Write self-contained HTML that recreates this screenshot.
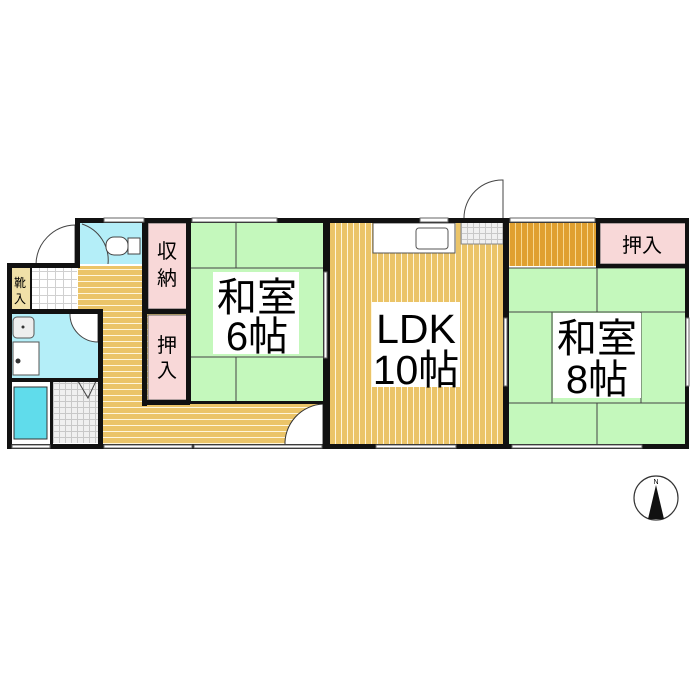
<!DOCTYPE html>
<html><head><meta charset="utf-8"><style>html,body{margin:0;padding:0;background:#fff}svg{display:block}text{font-family:"Liberation Sans","Noto Sans CJK JP",sans-serif}</style></head>
<body>
<svg width="700" height="700" viewBox="0 0 700 700" xmlns="http://www.w3.org/2000/svg">
<defs>
<pattern id="vs" width="6" height="10" patternUnits="userSpaceOnUse"><rect width="6" height="10" fill="#ebc468"/><rect x="5" width="1" height="10" fill="#fff6dc"/></pattern>
<pattern id="hs" width="10" height="6" patternUnits="userSpaceOnUse"><rect width="10" height="6" fill="#ebc468"/><rect y="5" width="10" height="1" fill="#fff6dc"/></pattern>
<pattern id="os" width="6" height="10" patternUnits="userSpaceOnUse"><rect width="6" height="10" fill="#e0a030"/><rect x="5" width="1" height="10" fill="#f8d890"/></pattern>
<pattern id="tl" width="8" height="8" patternUnits="userSpaceOnUse"><rect width="8" height="8" fill="#fff"/><rect x="7" width="1" height="8" fill="#d0d0d0"/><rect y="7" width="8" height="1" fill="#d0d0d0"/></pattern>
<pattern id="tl2" width="6" height="6" patternUnits="userSpaceOnUse"><rect width="6" height="6" fill="#f0f0f0"/><rect x="5" width="1" height="6" fill="#c8c8c8"/><rect y="5" width="6" height="1" fill="#c8c8c8"/></pattern>
</defs>
<rect x="78" y="266" width="66" height="46" fill="url(#hs)"/>
<rect x="102" y="310" width="228" height="136" fill="url(#hs)"/>
<path d="M285 446 A40 40 0 0 1 323 404 L323 446 Z" fill="#fff" stroke="#333" stroke-width="1"/>
<rect x="190" y="222" width="135" height="180" fill="#c4f8bc" stroke="#444" stroke-width="1"/>
<path d="M236 222V268M236 268H325M190 268H236M190 357H325M236 357V402" stroke="#444" fill="none"/>
<rect x="213" y="272" width="86" height="82" fill="#fff"/>
<rect x="148" y="223" width="39" height="86" fill="#f8d8d8" stroke="#666" stroke-width="1"/>
<rect x="148" y="315" width="39" height="85" fill="#f8d8d8" stroke="#666" stroke-width="1"/>
<rect x="330" y="222" width="174" height="224" fill="url(#vs)"/>
<rect x="373" y="223" width="82" height="30" fill="#fff" stroke="#555"/>
<rect x="416" y="228" width="32" height="21" rx="3" fill="#fff" stroke="#555"/>
<rect x="461" y="222" width="42" height="22" fill="url(#tl2)" stroke="#888"/>
<rect x="372" y="302" width="88" height="85" fill="#fff"/>
<rect x="508" y="222" width="89" height="44" fill="url(#os)"/>
<rect x="600" y="223" width="86" height="41" fill="#f8d8d8" stroke="#666"/>
<rect x="508" y="268" width="178" height="178" fill="#c4f8bc" stroke="#444"/>
<path d="M597 268V312M508 312H686M552 312V403M641 312V403M508 403H686M597 403V446" stroke="#444" fill="none"/>
<rect x="553" y="313" width="88" height="85" fill="#fff"/>
<rect x="80" y="222" width="63" height="42" fill="#b4eef8"/>
<path d="M82 224 A38 38 0 0 1 108 264" fill="none" stroke="#444"/>
<rect x="106" y="237" width="22" height="18" rx="8" fill="#fff" stroke="#444"/>
<rect x="128" y="238" width="12" height="16" fill="#fff" stroke="#444"/>
<rect x="10" y="268" width="21" height="42" fill="#f0e0a8"/>
<rect x="32" y="268" width="45" height="42" fill="url(#tl)"/>
<rect x="11" y="314" width="87" height="64" fill="#b4eef8"/>
<rect x="13" y="317" width="21" height="21" rx="4" fill="#eee" stroke="#555"/>
<circle cx="23" cy="327" r="1.5" fill="#333"/>
<rect x="13" y="342" width="26" height="33" fill="#fff" stroke="#555"/>
<circle cx="18" cy="361" r="2.5" fill="#333"/>
<path d="M70 313 A28 28 0 0 0 98 342 L98 313" fill="#fff" stroke="#444"/>
<rect x="11" y="383" width="40" height="61" fill="#fff"/>
<rect x="14" y="387" width="33" height="52" fill="#60dceb" stroke="#333"/>
<rect x="53" y="381" width="45" height="62" fill="url(#tl2)"/>
<path d="M78 381 L88 398 L96 381" fill="none" stroke="#444"/>
<path d="M36 265 A40 40 0 0 1 75 225 L75 265" fill="#fff" stroke="#444"/>
<path d="M464 218 A38 38 0 0 1 503 180 L503 218" fill="#fff" stroke="#444"/>
<g fill="#111">
<rect x="75" y="218" width="614" height="5"/>
<rect x="7" y="263" width="5" height="186"/>
<rect x="7" y="263" width="72" height="5"/>
<rect x="75" y="218" width="5" height="50"/>
<rect x="142" y="218" width="6" height="94"/>
<rect x="142" y="309" width="5" height="97"/>
<rect x="142" y="400" width="48" height="5"/>
<rect x="186" y="218" width="5" height="186"/>
<rect x="144" y="309" width="46" height="5"/>
<rect x="323" y="218" width="7" height="230"/>
<rect x="503" y="218" width="6" height="230"/>
<rect x="596" y="218" width="4" height="49"/>
<rect x="596" y="264" width="93" height="4"/>
<rect x="685" y="218" width="4" height="231"/>
<rect x="7" y="444" width="682" height="5"/>
<rect x="7" y="309" width="96" height="5"/>
<rect x="98" y="309" width="5" height="140"/>
<rect x="7" y="378" width="96" height="4"/>
<rect x="50" y="380" width="3" height="66"/>
<rect x="30" y="266" width="2" height="44"/>
<rect x="187" y="401" width="140" height="3"/>
</g>
<g fill="#fff" stroke="#666" stroke-width="1">
<rect x="104" y="218" width="40" height="4"/><rect x="192" y="218" width="85" height="4"/>
<rect x="420" y="218" width="28" height="4"/><rect x="510" y="218" width="85" height="4"/>
<rect x="104" y="445" width="88" height="3"/><rect x="194" y="445" width="128" height="3"/>
<rect x="376" y="445" width="80" height="3"/><rect x="512" y="445" width="130" height="3"/>
<rect x="12" y="445" width="38" height="3"/>
<rect x="686" y="318" width="3" height="68"/><rect x="504" y="318" width="3" height="68"/>
<rect x="324" y="272" width="3" height="86"/>
</g>
<text x="257" y="311" font-size="40" text-anchor="middle">和室</text>
<text x="257" y="350" font-size="40" text-anchor="middle">6帖</text>
<text x="416" y="343" font-size="41" text-anchor="middle">LDK</text>
<text x="416" y="384" font-size="41" text-anchor="middle">10帖</text>
<text x="597" y="352" font-size="40" text-anchor="middle">和室</text>
<text x="597" y="393" font-size="40" text-anchor="middle">8帖</text>
<text x="167" y="258" font-size="20" text-anchor="middle">収</text>
<text x="167" y="285" font-size="20" text-anchor="middle">納</text>
<text x="167" y="352" font-size="20" text-anchor="middle">押</text>
<text x="167" y="377" font-size="20" text-anchor="middle">入</text>
<text x="642" y="252" font-size="20" text-anchor="middle">押入</text>
<text x="20" y="287" font-size="12" text-anchor="middle">靴</text>
<text x="20" y="303" font-size="12" text-anchor="middle">入</text>
<circle cx="656" cy="498" r="22" fill="#fff" stroke="#333" stroke-width="1.2"/>
<path d="M656 485 L648 519 L664 519 Z" fill="#111"/>
<text x="656" y="484" font-size="7" text-anchor="middle" font-family="Liberation Serif">N</text>
</svg>
</body></html>
